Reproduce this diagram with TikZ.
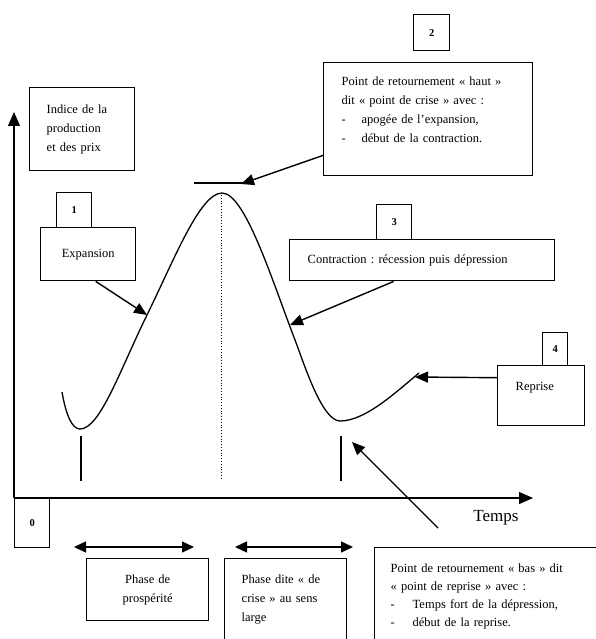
\documentclass[tikz,border=0pt]{standalone}
\usepackage{fontspec}
\setmainfont{Liberation Serif}
\usetikzlibrary{arrows.meta}
\frenchspacing

\tikzset{
  cadre/.style={draw, line width=1.4pt, rectangle, anchor=north west, inner ysep=0pt,
    font=\fontsize{12.5}{19}\selectfont},
  numero/.style={cadre, align=center, font=\bfseries\fontsize{10.5}{12}\selectfont},
  fleche/.style={line width=1.4pt, -{Triangle[length=13pt,width=11pt]}},
  axe/.style={line width=1.2pt, -{Triangle[length=14pt,width=12pt]}},
  double fleche/.style={line width=1.4pt, {Triangle[length=12pt,width=11pt]}-{Triangle[length=12pt,width=11pt]}}
}

\begin{document}
\begin{tikzpicture}[x=1pt,y=-1pt]
\tikzstyle{every node}+=[inner sep=0pt]
\useasboundingbox (0,0) rectangle (596,639);
\clip (0,0) rectangle (596,639);

\coordinate (origine) at (14,498);
\draw [axe] (origine) -- (14,112);
\draw [axe] (origine) -- (533,498);
\node (temps) at (496,518) {\fontsize{17}{20}\selectfont Temps};

\node [numero, minimum width=35, minimum height=49] (zero) at (14,498) {0};

\node [cadre, text width=71, inner xsep=17, minimum height=83, align=left] (indice) at (29,87)
  {Indice de la\\production\\et des prix};

\node [numero, minimum width=35, minimum height=35] (num1) at (56,192) {1};
\node [cadre, text width=95, minimum height=53, align=center] (expansion) at (40,227) {Expansion};

\node [numero, minimum width=36, minimum height=36] (num2) at (413,14) {2};
\node [cadre, text width=173, inner xsep=18, minimum height=113, align=left] (crise) at (323,62)
  {Point de retournement «~haut~»\\dit «~point de crise~» avec~:\\
   \makebox[20pt][l]{-}apogée de l’expansion,\\
   \makebox[20pt][l]{-}début de la contraction.\\ \mbox{}};

\node [numero, minimum width=35, minimum height=35] (num3) at (376,204) {3};
\node [cadre, text width=229, inner xsep=18, minimum height=41, align=left] (contraction) at (289,239)
  {Contraction~: récession puis dépression};

\node [numero, minimum width=25, minimum height=33] (num4) at (542,332) {4};
\node [cadre, text width=51, inner xsep=18, minimum height=60, align=left] (reprise) at (497,365)
  {Reprise\\ \mbox{}};

\node [cadre, text width=122, minimum height=62, align=center] (prosperite) at (86,558)
  {Phase de\\prospérité};
\node [cadre, text width=88, inner xsep=17, inner ysep=16.5, align=left] (phasecrise) at (224,558)
  {Phase dite «~de\\crise~» au sens\\large};
\node [cadre, text width=208, inner xsep=16, inner ysep=16.5, align=left,
  font=\fontsize{12.5}{18}\selectfont] (bas) at (374,547)
  {Point de retournement «~bas~» dit\\«~point de reprise~» avec~:\\
   \makebox[22pt][l]{-}Temps fort de la dépression,\\
   \makebox[22pt][l]{-}début de la reprise.};

\draw [line width=1.3pt] (62,392) .. controls (66,415) and (72,429) .. (80,429)
  .. controls (100,429) and (120,370) .. (147,315)
  .. controls (174,260) and (200,193) .. (222,193)
  .. controls (245,193) and (272,280) .. (295,340)
  .. controls (304,363.5) and (322,421) .. (340,421)
  .. controls (365,421) and (395,393) .. (419,373);

\draw [dotted, line width=0.8pt] (221,195) -- (221,480);
\draw [line width=1.2pt] (81,436) -- (81,481);
\draw [line width=1.2pt] (341,436) -- (341,481);
\coordinate (sommet) at (245,183);
\draw [line width=1.3pt] (194,183) -- (sommet);

\coordinate (pexp) at (147,315);
\coordinate (pcon) at (290,325);
\coordinate (prep) at (415,377);
\coordinate (pbas) at (352,442);
\coordinate (depart) at (438,528);

\draw [fleche] ([xshift=7.5pt]expansion.south) -- (pexp);
\draw [fleche] ([yshift=21pt]crise.south west) -- ([xshift=-4pt,yshift=-1pt]sommet);
\draw [fleche] ([xshift=-28.5pt]contraction.south) -- (pcon);
\draw [fleche] ([yshift=18pt]reprise.west) -- (prep);
\draw [fleche] (depart) -- (pbas);

\draw [double fleche] (74,547) -- (194,547);
\draw [double fleche] (235,547) -- (353,547);
\end{tikzpicture}
\end{document}
